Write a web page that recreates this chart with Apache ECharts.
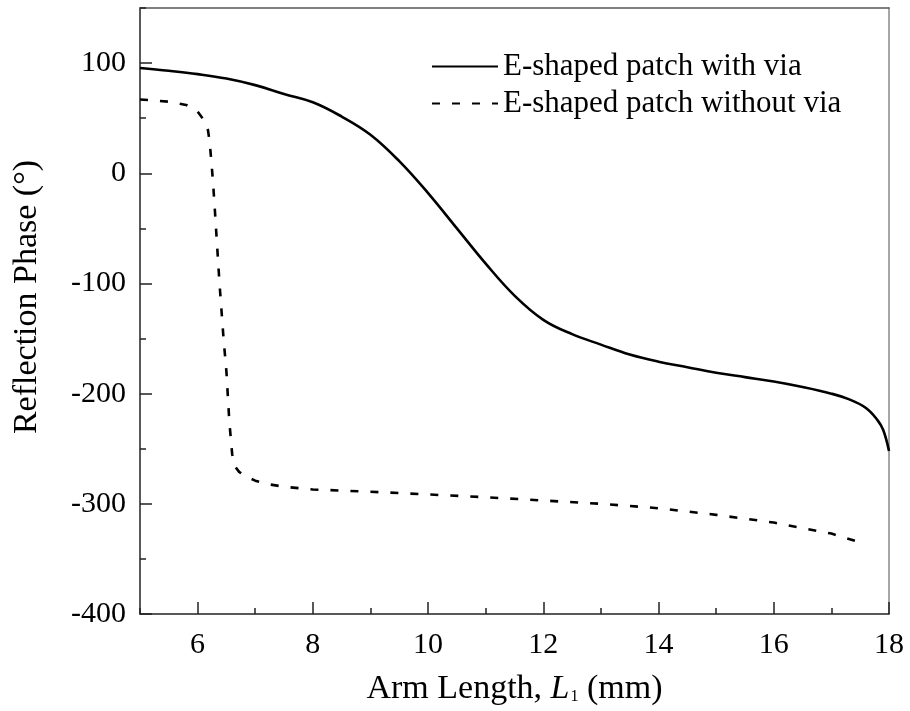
<!DOCTYPE html>
<html><head><meta charset="utf-8">
<script src="https://cdn.jsdelivr.net/npm/echarts@6/dist/echarts.min.js"></script>
<style>html,body{margin:0;padding:0;background:#fff}#c{width:910px;height:711px}</style>
</head><body><div id="c"></div>
<script>
const seriesNames = ['E-shaped patch with via', 'E-shaped patch without via'];

const withViaX = [5, 5.5, 6, 6.5, 7, 7.5, 8, 8.5, 9, 9.5, 10, 10.5, 11, 11.5, 12, 12.5, 13, 13.5, 14, 14.5, 15, 15.5, 16, 16.5, 17, 17.3, 17.6, 17.8, 17.9, 18];
const withViaY = [95.5, 93, 90, 86, 80, 72, 64.5, 51.5, 35, 11, -18, -50, -82, -111, -133, -146, -155.5, -164.5, -171, -176, -181, -185, -189, -194, -200, -205, -213, -224, -233, -252];

const withoutViaX = [5, 5.5, 5.8, 6.0, 6.1, 6.18, 6.21, 6.24, 6.27, 6.3, 6.38, 6.45, 6.5, 6.55, 6.6, 6.65, 6.72, 6.83, 7.0, 7.2, 7.5, 8, 9, 10, 11, 12, 13, 14, 15, 16, 17, 17.5];
const withoutViaY = [67, 65, 62, 56, 49, 39, 28, 10, -10, -34, -100, -150, -180, -225, -255, -266, -271, -275, -279, -282, -284.5, -287, -289, -291.5, -294, -297, -300, -304, -310, -317, -327, -335];

const xMin = 5, xMax = 18;
const yMin = -400, yMax = 150, yStep = 100;

const FONT = '"Liberation Serif", "Times New Roman", serif';
const FS = 30;
const TFS = 34;

function pairs(xs, ys) { return xs.map((x, i) => [x, ys[i]]); }

const chart = echarts.init(document.getElementById('c'), null, {renderer: 'canvas'});
const axisColor = '#222';
const option = {
  animation: false,
  backgroundColor: '#fff',
  grid: {left: 140, right: 21, top: 8, bottom: 97, containLabel: false},
  legend: {
    orient: 'vertical', left: 426, top: 46,
    itemWidth: 66, itemHeight: 14, itemGap: 6,
    itemStyle: {opacity: 0},
    textStyle: {fontFamily: FONT, fontSize: 31, color: '#000', lineHeight: 31, padding: [0, 0, 0, 0]},
    data: seriesNames
  },
  xAxis: [
    {
      type: 'value', min: xMin, max: xMax, splitNumber: 6, position: 'bottom',
      axisLine: {show: true, onZero: false, lineStyle: {color: axisColor, width: 1.5}},
      axisTick: {inside: true, length: 12, lineStyle: {color: axisColor, width: 1.5}},
      axisLabel: {showMinLabel: false, fontFamily: FONT, fontSize: FS, color: '#000', margin: 16},
      splitLine: {show: false},
      name: '{n|Arm Length, }{i|L}{s|1}{n| (mm)}',
      nameLocation: 'middle', nameGap: 58,
      nameTextStyle: {
        fontFamily: FONT, fontSize: TFS, color: '#000',
        rich: {
          n: {fontFamily: FONT, fontSize: TFS, color: '#000'},
          i: {fontFamily: FONT, fontSize: TFS, color: '#000', fontStyle: 'italic'},
          s: {fontFamily: FONT, fontSize: 16, color: '#000', padding: [16, 0, 0, 1]}
        }
      }
    },
    {
      type: 'value', min: xMin, max: xMax, interval: 1, position: 'bottom',
      axisLine: {show: false, onZero: false},
      axisTick: {inside: true, length: 6, lineStyle: {color: axisColor, width: 1.5}},
      axisLabel: {show: false}, splitLine: {show: false}
    },
    {
      type: 'value', min: xMin, max: xMax, position: 'top',
      axisLine: {show: true, onZero: false, lineStyle: {color: '#555', width: 1.5}},
      axisTick: {show: false}, axisLabel: {show: false}, splitLine: {show: false}
    }
  ],
  yAxis: [
    {
      type: 'value', min: yMin, max: yMax, interval: yStep, position: 'left',
      axisLine: {show: true, onZero: false, lineStyle: {color: axisColor, width: 1.5}},
      axisTick: {inside: true, length: 12, lineStyle: {color: axisColor, width: 1.5}},
      axisLabel: {showMaxLabel: false, fontFamily: FONT, fontSize: FS, color: '#000', margin: 14,
        formatter: v => (v === yMax ? '' : String(v))},
      splitLine: {show: false},
      name: 'Reflection Phase (°)', nameLocation: 'middle', nameGap: 96,
      nameTextStyle: {fontFamily: FONT, fontSize: TFS, color: '#000', padding: [0, 0, 0, 28]}
    },
    {
      type: 'value', min: yMin, max: yMax, interval: yStep / 2, position: 'left',
      axisLine: {show: false, onZero: false},
      axisTick: {inside: true, length: 6, lineStyle: {color: axisColor, width: 1.5}},
      axisLabel: {show: false}, splitLine: {show: false}
    },
    {
      type: 'value', min: yMin, max: yMax, position: 'right',
      axisLine: {show: true, onZero: false, lineStyle: {color: '#888', width: 1.5}},
      axisTick: {show: false}, axisLabel: {show: false}, splitLine: {show: false}
    }
  ],
  series: [
    {
      name: seriesNames[0], type: 'line', xAxisIndex: 0, yAxisIndex: 0,
      data: pairs(withViaX, withViaY), symbol: 'none', showSymbol: false,
      smooth: 0.4,
      lineStyle: {color: '#000', width: 2.6, type: 'solid'},
      itemStyle: {color: '#000'}
    },
    {
      name: seriesNames[1], type: 'line', xAxisIndex: 0, yAxisIndex: 0,
      data: pairs(withoutViaX, withoutViaY), symbol: 'none', showSymbol: false,
      smooth: false,
      lineStyle: {color: '#000', width: 2.6, type: [8, 12]},
      itemStyle: {color: '#000'}
    }
  ]
};
chart.setOption(option);
</script></body></html>
